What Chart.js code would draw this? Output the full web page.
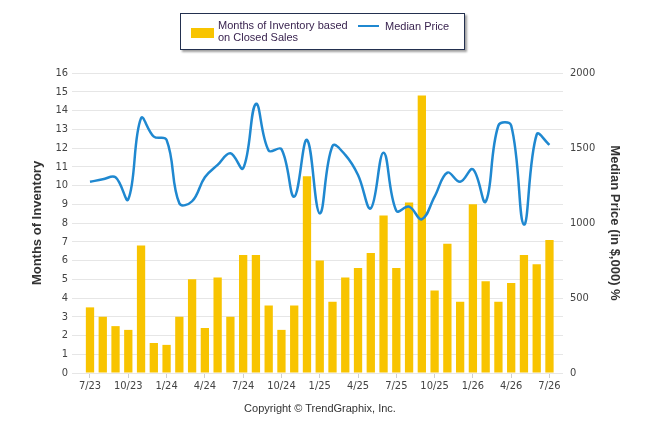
<!DOCTYPE html>
<html>
<head>
<meta charset="utf-8">
<script src="https://cdn.jsdelivr.net/npm/chart.js@4"></script>
<style>
  html, body { margin: 0; padding: 0; background: #fff; }
  #wrap { position: relative; width: 646px; height: 434px; }
  #legend {
    position: absolute; left: 180px; top: 13px; width: 283px; height: 35px;
    border: 1px solid #23304f; box-shadow: 2px 2px 2px #a0a0a0;
    font: 11px "Liberation Sans", Arial, sans-serif; color: #3a2450; background: #fff;
  }
  #legend .sw { position: absolute; left: 10px; top: 14px; width: 23px; height: 10px; background: #f8c400; }
  #legend .t1 { position: absolute; left: 37px; top: 5px; line-height: 12px; }
  #legend .ln { position: absolute; left: 177px; top: 11px; width: 21px; height: 2px; background: #1f88d0; }
  #legend .t2 { position: absolute; left: 204px; top: 6px; line-height: 12px; }
  #footer {
    position: absolute; left: 0; width: 640px; top: 402px; text-align: center;
    font: 11px "Liberation Sans", Arial, sans-serif; color: #333;
  }
</style>
</head>
<body>
<div id="wrap">
  <canvas id="chart" width="646" height="434"></canvas>
  <div id="legend">
    <div class="sw"></div>
    <div class="t1">Months of Inventory based<br>on Closed Sales</div>
    <div class="ln"></div>
    <div class="t2">Median Price</div>
  </div>
  <div id="footer">Copyright © TrendGraphix, Inc.</div>
</div>
<script>
// mois (7/23 -> 7/26)
var months = ['7/23','8/23','9/23','10/23','11/23','12/23','1/24','2/24','3/24','4/24','5/24','6/24',
  '7/24','8/24','9/24','10/24','11/24','12/24','1/25','2/25','3/25','4/25','5/25','6/25',
  '7/25','8/25','9/25','10/25','11/25','12/25','1/26','2/26','3/26','4/26','5/26','6/26','7/26'];

// Months of Inventory based on Closed Sales
var inventory = [3.5, 3.0, 2.5, 2.3, 6.8, 1.6, 1.5, 3.0, 5.0, 2.4, 5.1, 3.0,
  6.3, 6.3, 3.6, 2.3, 3.6, 10.5, 6.0, 3.8, 5.1, 5.6, 6.4, 8.4,
  5.6, 9.1, 14.8, 4.4, 6.9, 3.8, 9.0, 4.9, 3.8, 4.8, 6.3, 5.8, 7.1];

// Median Price (in $,000)
var medianPrice = [1275, 1291, 1305, 1158, 1699, 1576, 1554, 1131, 1145, 1305, 1387, 1465,
  1365, 1794, 1483, 1492, 1176, 1554, 1064, 1514, 1454, 1320, 1098, 1469,
  1082, 1109, 1025, 1176, 1336, 1275, 1358, 1142, 1650, 1650, 990, 1590, 1521];

// tick labels de l'axe x (tous les 3 mois)
var tickLabels = ['7/23','10/23','1/24','4/24','7/24','10/24','1/25','4/25','7/25','10/25','1/26','4/26','7/26'];

var tickFont = { family: '"Liberation Sans Narrow", "DejaVu Sans Condensed", sans-serif', size: 11 };
var titleFont = { family: '"Liberation Sans", Arial, sans-serif', size: 13, weight: 'bold' };

var ctx = document.getElementById('chart').getContext('2d');
var myChart = new Chart(ctx, {
  data: {
    datasets: [
      {
        type: 'line',
        label: 'Median Price',
        data: medianPrice.map(function(v, i) { return { x: i, y: v }; }),
        yAxisID: 'y1',
        borderColor: '#1f88d0',
        borderWidth: 2.5,
        pointRadius: 0,
        tension: 0.4,
        order: 0
      },
      {
        type: 'bar',
        label: 'Months of Inventory based on Closed Sales',
        data: inventory.map(function(v, i) { return { x: i, y: v }; }),
        yAxisID: 'y',
        backgroundColor: '#f8c400',
        categoryPercentage: 1,
        barPercentage: 0.65,
        order: 1
      }
    ]
  },
  options: {
    responsive: false,
    animation: false,
    layout: { padding: { top: 73, bottom: 31, left: 0, right: 0 } },
    plugins: { legend: { display: false }, tooltip: { enabled: false } },
    scales: {
      x: {
        type: 'linear',
        offset: false,
        min: -1.41,
        max: 37.06,
        afterBuildTicks: function(s) {
          s.ticks = tickLabels.map(function(l) { return { value: months.indexOf(l) }; });
        },
        afterFit: function(s) { s.height = 30; },
        grid: { drawOnChartArea: false, drawTicks: true, tickLength: 5, color: '#cfcfcf', offset: false },
        border: { display: false },
        ticks: {
          font: tickFont, color: '#444', padding: 2, maxRotation: 0, autoSkip: false,
          callback: function(v) { return months[v]; }
        }
      },
      y: {
        position: 'left',
        min: 0, max: 16,
        afterFit: function(s) { s.width = 72; },
        ticks: { stepSize: 1, font: tickFont, color: '#444', padding: 4 },
        grid: { color: '#e6e6e6', drawTicks: false },
        border: { display: false },
        title: { display: true, text: 'Months of Inventory', font: titleFont, color: '#333', padding: { top: 30, bottom: 0 } }
      },
      y1: {
        position: 'right',
        min: 0, max: 2000,
        afterFit: function(s) { s.width = 83; },
        ticks: {
          stepSize: 500, font: tickFont, color: '#444', padding: 7,
          callback: function(v) { return String(v); }
        },
        grid: { drawOnChartArea: false, drawTicks: false },
        border: { display: false },
        title: { display: true, text: 'Median Price (in $,000) %', font: titleFont, color: '#333', padding: { top: 24, bottom: 0 } }
      }
    }
  }
});
</script>
</body>
</html>
